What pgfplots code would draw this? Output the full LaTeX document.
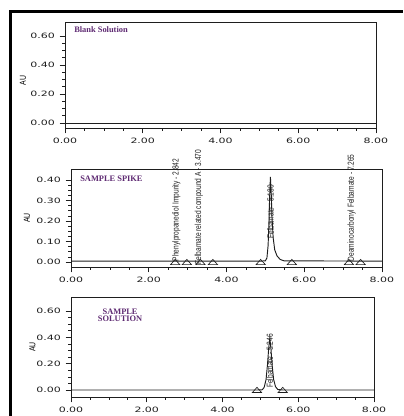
\documentclass[border=0pt]{standalone}
\usepackage{pgfplots}
\pgfplotsset{compat=1.18}
\usepackage{fontspec}
\setmainfont{Liberation Serif}
\newfontfamily\tickfont[FakeStretch=1.5]{DejaVu Sans}
\newfontfamily\narrowfont[FakeStretch=0.75]{Liberation Sans}
\newfontfamily\aufont[FakeStretch=0.8]{Liberation Sans}
\definecolor{ttl}{HTML}{5E2A72}
\definecolor{ink}{HTML}{1E1E1E}

\pgfplotsset{
  chrom/.style={
    scale only axis, anchor=north west, clip=false,
    xmin=0, xmax=8,
    xtick={0,2,4,6,8},
    minor x tick num=3,
    minor y tick num=3,
    tick align=outside,
    tick pos=left,
    major tick length=4pt, minor tick length=2pt,
    axis line style={line width=0.6pt, ink},
    every tick/.style={ink, line width=0.5pt},
    /pgf/number format/fixed,
    /pgf/number format/fixed zerofill,
    /pgf/number format/precision=2,
    /pgf/number format/assume math mode=true,
    xticklabel style={font=\tickfont\fontsize{5.5}{6}\selectfont, text=ink},
    yticklabel style={font=\tickfont\fontsize{5.5}{6}\selectfont, text=ink},
    ylabel={AU},
    ylabel style={font=\aufont\fontsize{6.5}{7}\selectfont, anchor=center},
  },
  trace/.style={ink, line width=0.7pt},
  tri/.style={only marks, mark=triangle, mark size=4pt, mark options={yscale=0.65, line width=0.5pt, ink}},
}
\tikzset{
  pklabel/.style={font=\narrowfont\fontsize{6.6}{7}\selectfont, rotate=90, inner sep=0.5pt, text=ink},
  ttlstyle/.style={font=\bfseries\fontsize{6.3}{5.6}\selectfont, text=ttl, inner sep=0pt},
}

\begin{document}
\begin{tikzpicture}
\path[use as bounding box] (0pt,0pt) rectangle (302.25pt,-312pt);
\draw[line width=2.2pt, black] (7.9pt,-312pt) -- (7.9pt,-8.4pt) -- (302.25pt,-8.4pt);

% Panel 1: Blank Solution
\begin{axis}[chrom,
  at={(48.75pt,-16.5pt)}, width=233.25pt, height=79.5pt,
  ymin=-0.034, ymax=0.697, ytick={0,0.2,0.4,0.6},
  ylabel style={at={([xshift=-31.5pt]axis description cs:0,0.45)}},
]
\addplot[trace] coordinates {(0,0) (1,0) (2,0) (3,0) (4,0) (5,0) (6,0) (7,0) (8,0)};
\node[ttlstyle, anchor=west] at (rel axis cs:0.029,0.931) {Blank Solution};
\end{axis}

% Panel 2: Sample Spike
\begin{axis}[chrom,
  at={(53.25pt,-126.75pt)}, width=233.25pt, height=73.5pt,
  ymin=-0.024, ymax=0.454, ytick={0,0.1,0.2,0.3,0.4},
  ylabel style={at={([xshift=-33pt]axis description cs:0,0.5)}},
]
\addplot[trace] coordinates {
 (0,0.005) (2.84,0.005) (3.47,0.005) (4.90,0.005) (5.00,0.006) (5.04,0.02)
 (5.07,0.08) (5.09,0.18) (5.11,0.32) (5.13,0.415) (5.15,0.34) (5.17,0.22)
 (5.20,0.12) (5.24,0.06) (5.30,0.03) (5.38,0.013) (5.48,0.006) (7.27,0.005) (8,0.005)};
\addplot[tri] coordinates {(2.68,-0.004) (2.98,-0.004) (3.33,-0.004) (3.65,-0.004)
 (4.88,-0.004) (5.68,-0.004) (7.15,-0.004) (7.45,-0.004)};
\node[ttlstyle, anchor=west] at (rel axis cs:0.029,0.905) {SAMPLE SPIKE};
\node[pklabel, anchor=south west] at (axis cs:2.842,0.0) {Phenylpropanediol Impurity - 2.842};
\node[pklabel, anchor=south west] at (axis cs:3.42,-0.015) {Felbamate related compound A - 3.470};
\node[pklabel, anchor=east] at (axis cs:5.13,0.38) {Felbamate - 5.130};
\node[pklabel, anchor=south west] at (axis cs:7.35,0.0) {Deaminocarbonyl Felbamate - 7.265};
\end{axis}

% Panel 3: Sample Solution
\begin{axis}[chrom,
  at={(53.25pt,-222.75pt)}, width=227.25pt, height=75pt,
  ymin=-0.053, ymax=0.707, ytick={0,0.2,0.4,0.6},
  ylabel style={at={([xshift=-29pt]axis description cs:0,0.5)}},
]
\addplot[trace] coordinates {
 (0,0) (4.90,0) (5.05,0.002) (5.10,0.02) (5.15,0.08) (5.19,0.20) (5.22,0.32)
 (5.25,0.395) (5.28,0.31) (5.31,0.19) (5.35,0.08) (5.40,0.025) (5.46,0.004) (5.60,0) (8,0)};
\addplot[tri] coordinates {(4.91,-0.006) (5.59,-0.006)};
\node[ttlstyle, align=center] at (rel axis cs:0.162,0.82) {SAMPLE\\SOLUTION};
\node[pklabel, anchor=west] at (axis cs:5.25,0.01) {Felbamate - 5.246};
\end{axis}
\end{tikzpicture}
\end{document}
